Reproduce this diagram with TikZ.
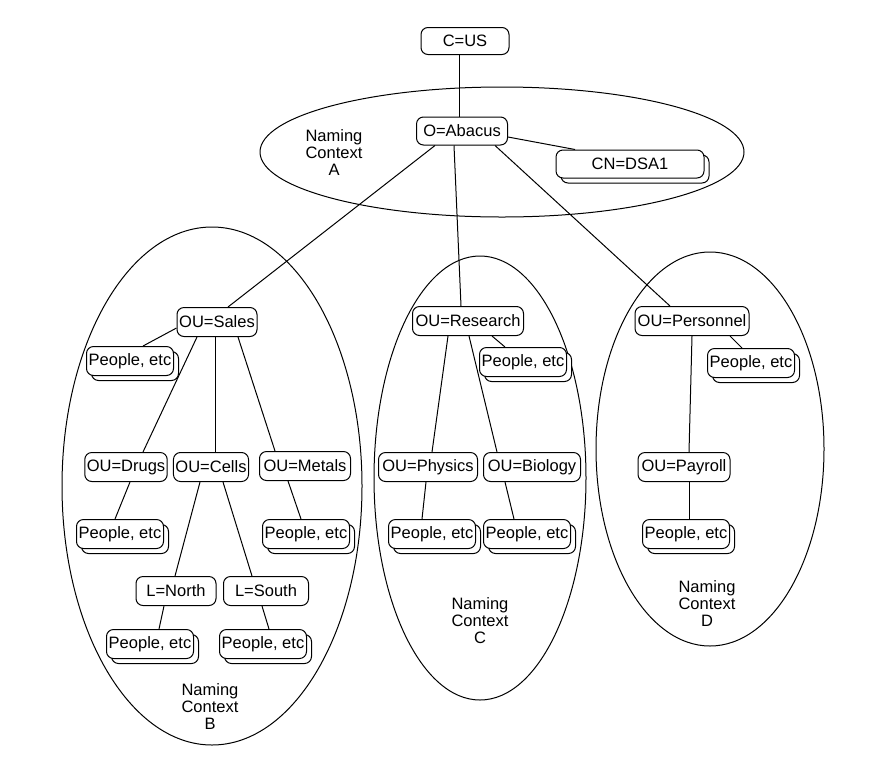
\documentclass[tikz,border=0pt]{standalone}
\usepackage{fontspec}
\setmainfont{Liberation Sans}
\usetikzlibrary{shadows}

\begin{document}
\begin{tikzpicture}[x=1pt, y=-1pt, line width=1pt,
					font=\fontsize{16.5}{17}\selectfont,
					entry/.style={draw, fill=white, rounded corners=7pt, minimum height=29pt, inner xsep=2pt, inner ysep=0pt},
					stacked/.style={entry, minimum width=87pt, copy shadow={shadow xshift=5pt, shadow yshift=-5pt, line width=1pt}},
					ctx/.style={align=center},]
					\useasboundingbox (0,0) rectangle (877,777);

					% naming contexts
					\draw (502,152) ellipse [x radius=242pt, y radius=65pt];
					\draw (212,486) ellipse [x radius=150pt, y radius=259pt];
					\draw (480,478) ellipse [x radius=106pt, y radius=222pt];
					\draw (710,449) ellipse [x radius=114pt, y radius=197pt];
					\node[ctx] (ctxA) at (334,153) {Naming\\Context\\A};
					\node[ctx] (ctxB) at (210,707) {Naming\\Context\\B};
					\node[ctx] (ctxC) at (480,621) {Naming\\Context\\C};
					\node[ctx] (ctxD) at (707,604) {Naming\\Context\\D};

					% entries
					\node[entry, minimum width=88pt, minimum height=27pt] (cus) at (465,41) {C=US};
					\node[entry, minimum width=91pt, minimum height=28pt] (abacus) at (462,131) {O=Abacus};
					\node[stacked, minimum width=148pt, minimum height=28pt] (dsa1) at (630,164) {CN=DSA1};

					\node[entry, minimum width=80pt] (sales) at (217,322) {OU=Sales};
					\node[stacked] (people1) at (130,361) {People, etc};
					\node[entry, minimum width=80pt] (drugs) at (126,467) {OU=Drugs};
					\node[entry, minimum width=74pt] (cells) at (211,467) {OU=Cells};
					\node[entry, minimum width=91pt] (metals) at (305,466) {OU=Metals};
					\node[stacked] (people2) at (120,534) {People, etc};
					\node[stacked] (people3) at (306,534) {People, etc};
					\node[entry, minimum width=80pt] (north) at (176,591) {L=North};
					\node[entry, minimum width=85pt] (south) at (266,591) {L=South};
					\node[stacked] (people4) at (150,644) {People, etc};
					\node[stacked] (people5) at (263,644) {People, etc};

					\node[entry, minimum width=111pt] (research) at (468,321) {OU=Research};
					\node[stacked] (people6) at (523,362) {People, etc};
					\node[entry, minimum width=99pt] (physics) at (428,467) {OU=Physics};
					\node[entry, minimum width=97pt] (biology) at (532,467) {OU=Biology};
					\node[stacked] (people7) at (432,534) {People, etc};
					\node[stacked] (people8) at (527,534) {People, etc};

					\node[entry, minimum width=114pt] (personnel) at (692,321) {OU=Personnel};
					\node[stacked] (people9) at (751,363) {People, etc};
					\node[entry, minimum width=92pt] (payroll) at (684,467) {OU=Payroll};
					\node[stacked] (people10) at (686,534) {People, etc};

					% links
					\draw ([yshift=-6pt]abacus.east) -- ([xshift=-55pt]dsa1.north);
					\draw ([yshift=-6pt]sales.west) -- ([xshift=13pt]people1.north);
					\foreach \a/\sa/\b/\sb in {cus/-6/abacus/-3, abacus/-27/sales/11, abacus/-8/research/-7, abacus/33/personnel/-22,
						sales/-20/drugs/17, sales/-2/cells/4, sales/21/metals/-30, drugs/4/people2/-5, cells/-11/north/-1,
						cells/12/south/-14, metals/-17/people3/-5, north/-12/people4/9, south/-4/people5/6,
						research/24/people6/-18, research/-20/physics/4, research/1/biology/-35, physics/-2/people7/-10,
						biology/-27/people8/-13, personnel/38/people9/-9, personnel/0/payroll/5, payroll/5/people10/3}
						\draw ([xshift=\sa pt]\a.south) -- ([xshift=\sb pt]\b.north);
				\end{tikzpicture}
\end{document}
